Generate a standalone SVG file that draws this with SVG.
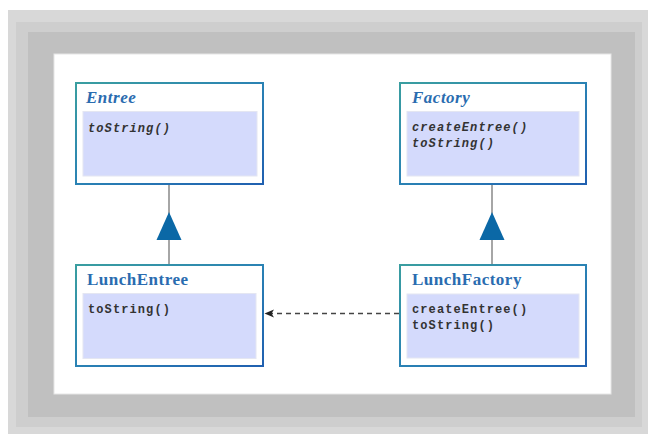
<svg xmlns="http://www.w3.org/2000/svg" width="648" height="434" viewBox="0 0 648 434">
<defs>
<linearGradient id="bd" x1="0" y1="0" x2="1" y2="1">
<stop offset="0" stop-color="#3a9ea0"/>
<stop offset="0.5" stop-color="#2a82b4"/>
<stop offset="1" stop-color="#2060b0"/>
</linearGradient>
<style>
.box{fill:#fff;stroke:url(#bd);stroke-width:2}
.inner{fill:#d4dafc;stroke:#e4e6f2;stroke-width:1}
.title{font-family:"Liberation Serif",serif;font-weight:bold;font-size:17px;fill:#2a6cb0;letter-spacing:0.5px}
.it{font-style:italic}
.m{font-family:"Liberation Mono",monospace;font-weight:bold;font-size:12px;fill:#333;letter-spacing:1.1px}
.gen{stroke:#888;stroke-width:1.5;fill:none}
.tri{fill:#0b68a6}
.dep{stroke:#444;stroke-width:1.3;stroke-dasharray:5 4;fill:none}
.head{fill:#222}
</style>
</defs>
<rect x="0" y="0" width="648" height="434" fill="#fff"/>
<rect x="8" y="10" width="640" height="424" fill="#d8d8d8"/>
<rect x="16" y="22" width="626" height="405" fill="#cecece"/>
<rect x="28" y="32" width="607" height="385" fill="#c0c0c0"/>
<rect x="54" y="54" width="557" height="340" fill="#fff" stroke="#e6e6e6" stroke-width="1"/>

<g id="connectors">
<line class="gen" x1="169" y1="184" x2="169" y2="264"/>
<polygon class="tri" points="169,212 156.5,240 181.5,240"/>
<line class="gen" x1="492" y1="184" x2="492" y2="264"/>
<polygon class="tri" points="492,212 479.5,240 504.5,240"/>
<line class="dep" x1="399" y1="313.5" x2="270" y2="313.5"/>
<polygon class="head" points="264.5,313.5 274,309.5 271.5,313.5 274,317.5"/>
</g>

<g id="Entree">
<rect class="box" x="76" y="83" width="187" height="101"/>
<rect class="inner" x="83" y="111.5" width="174" height="64.5"/>
<text class="title it" x="86" y="103">Entree</text>
<text class="m it" x="88" y="131.5">toString()</text>
</g>

<g id="Factory">
<rect class="box" x="400" y="83" width="186" height="101"/>
<rect class="inner" x="407" y="111.5" width="172" height="64.5"/>
<text class="title it" x="412" y="103">Factory</text>
<text class="m it" x="412" y="131">createEntree()</text>
<text class="m it" x="412" y="147">toString()</text>
</g>

<g id="LunchEntree">
<rect class="box" x="76" y="265" width="187" height="101"/>
<rect class="inner" x="83" y="293.5" width="173" height="65"/>
<text class="title" x="87" y="285">LunchEntree</text>
<text class="m" x="88" y="312.5">toString()</text>
</g>

<g id="LunchFactory">
<rect class="box" x="400" y="265" width="186" height="101"/>
<rect class="inner" x="407" y="294" width="172" height="64"/>
<text class="title" x="412" y="285">LunchFactory</text>
<text class="m" x="412" y="312.5">createEntree()</text>
<text class="m" x="412" y="329">toString()</text>
</g>
</svg>
